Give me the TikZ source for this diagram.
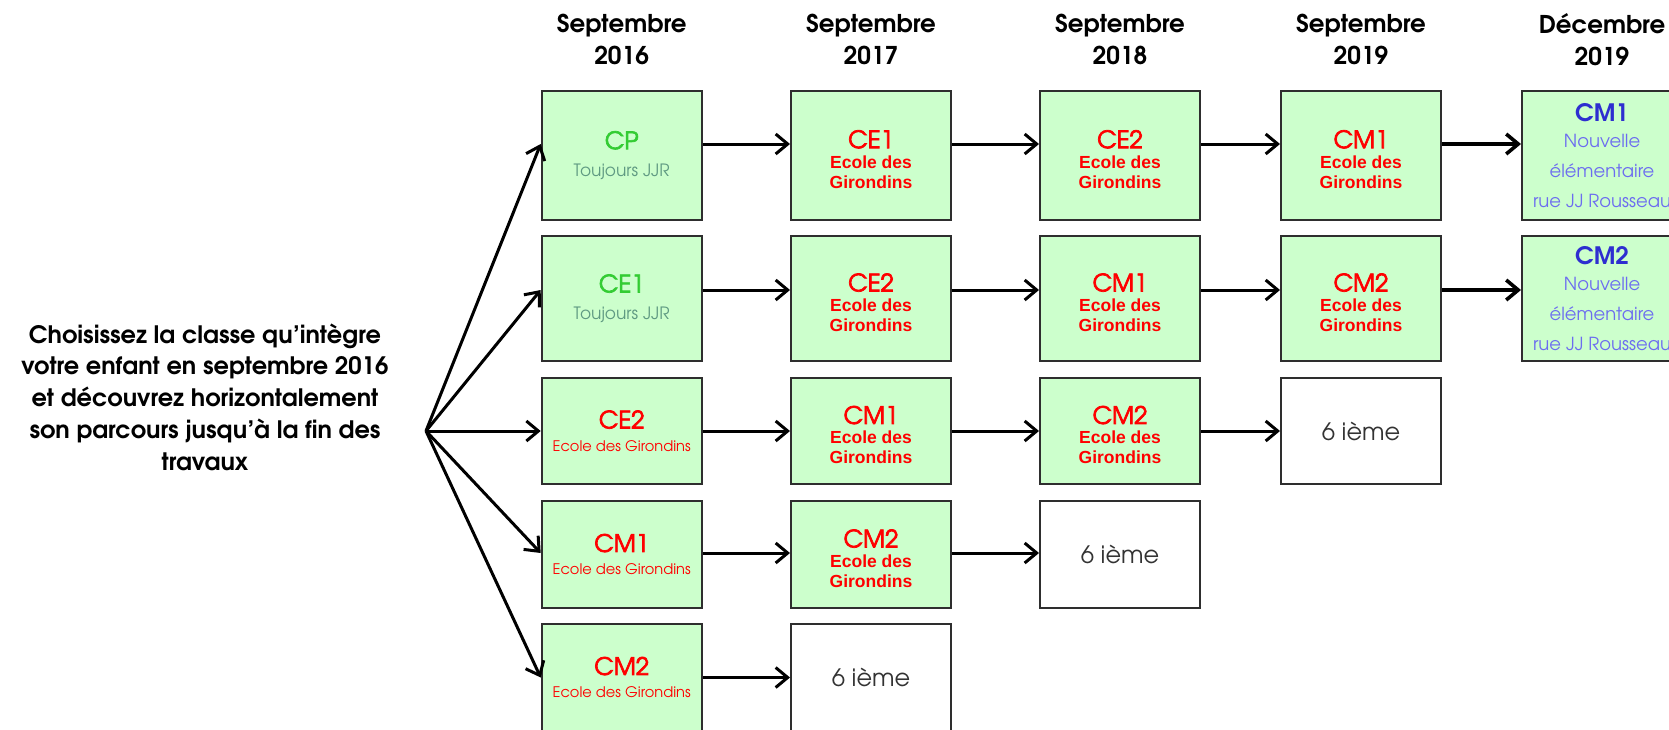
\documentclass[tikz,border=0pt]{standalone}
\usepackage{fontspec}
\usetikzlibrary{arrows.meta}
\IfFontExistsTF{TeX Gyre Adventor}{%
  \setmainfont{TeX Gyre Adventor}
  \newfontfamily\clsfont{TeX Gyre Adventor}[FakeBold=3]
}{%
  \setmainfont{Poppins}
  \newfontfamily\clsfont{Poppins}[FakeBold=3]
}
\newfontfamily\arialfont{Liberation Sans}
\definecolor{boxfill}{HTML}{CCFFCC}
\definecolor{boxline}{HTML}{2E2E2E}
\definecolor{cpgreen}{HTML}{33CC33}
\definecolor{jjrgray}{HTML}{5F9A82}
\definecolor{cmblue}{HTML}{2E2ED0}
\definecolor{nouvblue}{HTML}{6C6CF0}
\definecolor{sixgray}{HTML}{333333}
\newcommand\cls[2]{{\clsfont\mdseries\fontsize{24}{24}\selectfont\color{#1}#2}}
\newcommand\clsR[1]{\rule{0pt}{26pt}\cls{red}{#1}}
\newcommand\clsb[2]{{\rmfamily\bfseries\fontsize{24}{24}\selectfont\color{#1}#2}}
\tikzset{
  box/.style={draw=boxline, line width=2pt, fill=boxfill, minimum width=160pt,
    inner sep=0pt, align=center},
  wbox/.style={box, fill=white, text=sixgray, font=\fontsize{24}{24}\selectfont},
  hrA/.style={minimum height=128.5pt},
  hrB/.style={minimum height=125pt},
  hrC/.style={minimum height=106.5pt},
  fA/.style={font=\fontsize{17}{27}\selectfont, text=jjrgray},
  fB/.style={font=\arialfont\bfseries\fontsize{17.5}{20}\selectfont, text=red},
  fC/.style={font=\fontsize{14.6}{23}\selectfont, text=red},
  fD/.style={font=\fontsize{18}{30}\selectfont, text=nouvblue},
  hdr/.style={font=\bfseries\fontsize{24.5}{31.5}\selectfont, align=center, inner sep=0pt},
  arr/.style={-{Straight Barb[length=12pt,width=20pt]}, line width=3pt, black},
  arrthick/.style={arr, line width=3.6pt},
}
\begin{document}
\begin{tikzpicture}[x=1pt,y=-1pt]
\useasboundingbox (0,0) rectangle (1669,729);
\clip (0,0) rectangle (1669,729);

% headers
\node[hdr] (h1) at (621.7,39.5) {Septembre\\2016};
\node[hdr] (h2) at (871,39.5) {Septembre\\2017};
\node[hdr] (h3) at (1120,39.5) {Septembre\\2018};
\node[hdr] (h4) at (1361,39.5) {Septembre\\2019};
\node[hdr] (h5) at (1602,39.5) {Décembre\\2019};

% left text
\node[font=\bfseries\fontsize{24}{31.7}\selectfont, align=center, inner sep=0pt] (intro) at (205,397)
  {Choisissez la classe qu'intègre\\votre enfant en septembre 2016\\et découvrez horizontalement\\son parcours jusqu'à la fin des\\travaux};
\coordinate (fan) at (426,431);

% row 1
\node[box,hrA,fA] (b11) at (621.7,155.25) {\cls{cpgreen}{CP}\\Toujours JJR};
\node[box,hrA,fB] (b12) at (871,155.25) {\clsR{CE1}\\Ecole des\\Girondins};
\node[box,hrA,fB] (b13) at (1120,155.25) {\clsR{CE2}\\Ecole des\\Girondins};
\node[box,hrA,fB] (b14) at (1361,155.25) {\clsR{CM1}\\Ecole des\\Girondins};
\node[box,hrA,fD] (b15) at (1602,155.25) {\clsb{cmblue}{CM1}\\[-4pt]Nouvelle\\élémentaire\\rue JJ Rousseau};

% row 2
\node[box,hrB,fA] (b21) at (621.7,298.5) {\cls{cpgreen}{CE1}\\Toujours JJR};
\node[box,hrB,fB] (b22) at (871,298.5) {\clsR{CE2}\\Ecole des\\Girondins};
\node[box,hrB,fB] (b23) at (1120,298.5) {\clsR{CM1}\\Ecole des\\Girondins};
\node[box,hrB,fB] (b24) at (1361,298.5) {\clsR{CM2}\\Ecole des\\Girondins};
\node[box,hrB,fD] (b25) at (1602,298.5) {\clsb{cmblue}{CM2}\\[-4pt]Nouvelle\\élémentaire\\rue JJ Rousseau};

% row 3
\node[box,hrC,fC] (b31) at (621.7,431) {\cls{red}{CE2}\\Ecole des Girondins};
\node[box,hrC,fB] (b32) at (871,431) {\clsR{CM1}\\Ecole des\\Girondins};
\node[box,hrC,fB] (b33) at (1120,431) {\clsR{CM2}\\Ecole des\\Girondins};
\node[box,hrC,wbox] (b34) at (1361,431) {6 ième};

% row 4
\node[box,hrC,fC] (b41) at (621.7,554.5) {\cls{red}{CM1}\\Ecole des Girondins};
\node[box,hrC,fB] (b42) at (871,554.5) {\clsR{CM2}\\Ecole des\\Girondins};
\node[box,hrC,wbox] (b43) at (1120,554.5) {6 ième};

% row 5
\node[box,hrC,fC] (b51) at (621.7,677.5) {\cls{red}{CM2}\\Ecole des Girondins};
\node[box,hrC,wbox] (b52) at (871,677.5) {6 ième};

% fan arrows
\draw[arr] (fan) -- ([yshift=11.25pt]b11.west);
\draw[arr] (fan) -- ([yshift=8.5pt]b21.west);
\draw[arr] (fan) -- (b31.west);
\draw[arr] (fan) -- ([yshift=1.5pt]b41.west);
\draw[arr] (fan) -- (b51.west);

% row arrows
\draw[arr] ([yshift=11.25pt]b11.east) -- ([yshift=11.25pt]b12.west);
\draw[arr] ([yshift=11.25pt]b12.east) -- ([yshift=11.25pt]b13.west);
\draw[arr] ([yshift=11.25pt]b13.east) -- ([yshift=11.25pt]b14.west);
\draw[arrthick] ([yshift=11.25pt]b14.east) -- ([yshift=11.25pt]b15.west);
\draw[arr] ([yshift=8.5pt]b21.east) -- ([yshift=8.5pt]b22.west);
\draw[arr] ([yshift=8.5pt]b22.east) -- ([yshift=8.5pt]b23.west);
\draw[arr] ([yshift=8.5pt]b23.east) -- ([yshift=8.5pt]b24.west);
\draw[arrthick] ([yshift=8.5pt]b24.east) -- ([yshift=8.5pt]b25.west);
\draw[arr] (b31.east) -- (b32.west);
\draw[arr] (b32.east) -- (b33.west);
\draw[arr] (b33.east) -- (b34.west);
\draw[arr] ([yshift=1.5pt]b41.east) -- ([yshift=1.5pt]b42.west);
\draw[arr] ([yshift=1.5pt]b42.east) -- ([yshift=1.5pt]b43.west);
\draw[arr] (b51.east) -- (b52.west);
\end{tikzpicture}
\end{document}
